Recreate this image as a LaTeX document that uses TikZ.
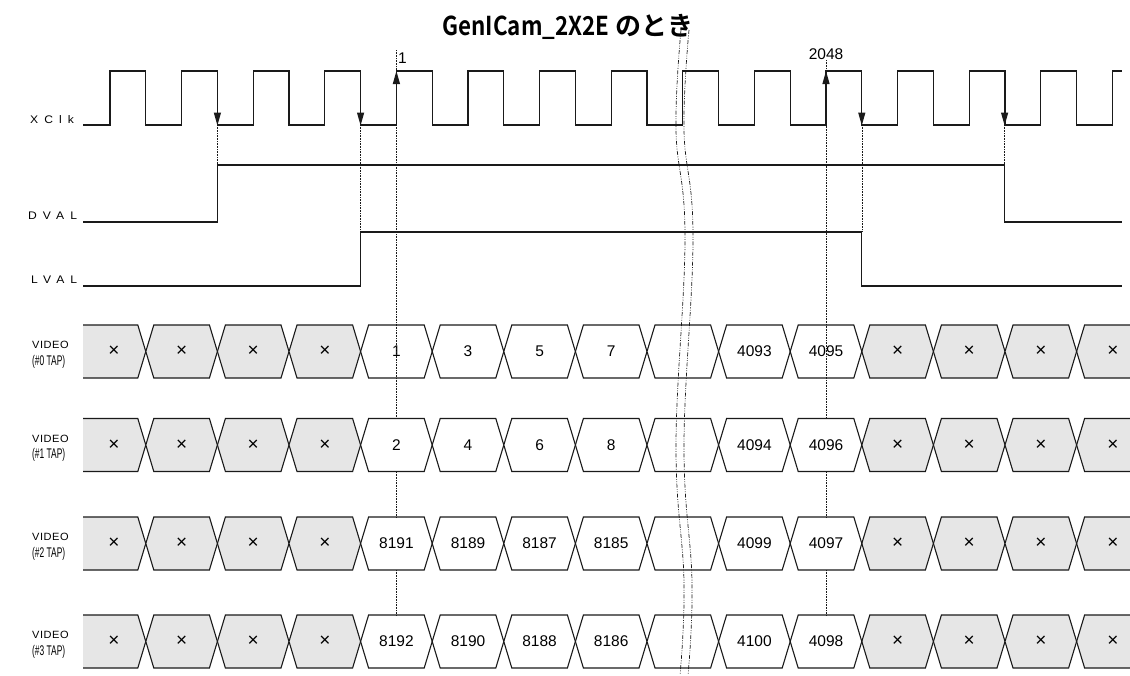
\documentclass[tikz,border=0pt]{standalone}
\usepackage{fontspec}
\setmainfont{Liberation Sans}
\newfontfamily\sigfont[FakeStretch=1.1,LetterSpace=55]{Liberation Sans}
\newfontfamily\vidfont[FakeStretch=1.05,LetterSpace=5]{Liberation Sans}
\newfontfamily\tapfont[FakeStretch=0.6]{Liberation Sans}
\newfontfamily\titlefont{Noto Sans CJK JP Bold}
\usepackage{xcolor}
\usetikzlibrary{arrows.meta}
\definecolor{cellgray}{HTML}{E6E6E6}
\definecolor{wire}{HTML}{1A1A1A}

\begin{document}
\begin{tikzpicture}[x=1pt,y=-1pt,>={Triangle[length=13pt,width=7pt]},
        signal/.style={draw=wire,line width=1.2pt},
        guide/.style={draw=wire,densely dotted,line width=0.6pt},
        cellline/.style={draw=wire,line width=1.1pt},
        xcell/.style={cellline,fill=cellgray},
        dcell/.style={cellline,fill=white},
        celltext/.style={font=\fontsize{15.5}{18}\selectfont},
        xtext/.style={font=\fontsize{19}{20}\selectfont},
        siglabel/.style={anchor=base west,inner sep=0pt,font=\sigfont\fontsize{11}{12}\selectfont},
        vidlabel/.style={anchor=base west,inner sep=0pt,font=\vidfont\fontsize{10.5}{12}\selectfont},
        taplabel/.style={anchor=base west,inner sep=0pt,font=\tapfont\fontsize{14}{15}\selectfont},
        breakline/.style={draw=wire,line width=0.7pt,
          dash pattern=on 4pt off 1.5pt on 0.8pt off 1.5pt on 0.8pt off 1.5pt}]
  \useasboundingbox (0,0) rectangle (1130,675);

  % title and edge numbers
  \node[anchor=base,inner sep=0pt,font=\titlefont\fontsize{26}{30}\selectfont] (title) at (568,35)
    {{\addfontfeature{FakeStretch=0.86}GenICam\_2X2E} のとき};
  \node[celltext,anchor=base west,inner sep=0pt] (first) at (398,63) {1};
  \node[celltext,anchor=base,inner sep=0pt] (last) at (826,59) {2048};

  % signal names
  \node[siglabel] (xclk) at (30,123) {XClk};
  \node[siglabel] (dval) at (28,219) {DVAL};
  \node[siglabel] (lval) at (31,283) {LVAL};

  % clock
  \draw[signal] (83,125) \foreach \k in {0,...,13} {
      -- ({110+71.6*\k},125) -- ({110+71.6*\k},71) -- ({145.8+71.6*\k},71) -- ({145.8+71.6*\k},125) }
    -- (1112.4,125) -- (1112.4,71) -- (1122,71);
  \foreach \fx in {217.4,360.6,861.8,1004.6}
    \draw[signal,->] (\fx,75) -- (\fx,125.5);
  \foreach \rx in {396.4,826}
    \draw[signal,->] (\rx,125) -- (\rx,71);

  % DVAL / LVAL
  \draw[signal] (83,222) -- (217.4,222) -- (217.4,165) -- (1004.6,165) -- (1004.6,222) -- (1122,222);
  \draw[signal] (83,286) -- (360.6,286) -- (360.6,232) -- (861.8,232) -- (861.8,286) -- (1122,286);
  \draw[guide] (217.4,125) -- (217.4,165) (1004.6,125) -- (1004.6,165)
               (360.6,125) -- (360.6,232) (861.8,125) -- (861.8,232);

  % video taps
  \foreach \r/\yc/\ta/\tb/\tc/\td/\te/\tf in {0/351.5/1/3/5/7/4093/4095,
      1/445/2/4/6/8/4094/4096, 2/543.5/8191/8189/8187/8185/4099/4097,
      3/641.5/8192/8190/8188/8186/4100/4098} {
    \node[vidlabel] (vid\r) at (32,\yc-3) {VIDEO};
    \node[taplabel] (tap\r) at (32,\yc+13.5) {(\#\r\ TAP)};
    \fill[cellgray] (83,\yc-26.5) -- (137.8,\yc-26.5) -- (145.8,\yc) -- (137.8,\yc+26.5) -- (83,\yc+26.5) -- cycle;
    \draw[cellline] (83,\yc-26.5) -- (137.8,\yc-26.5) -- (145.8,\yc) -- (137.8,\yc+26.5) -- (83,\yc+26.5);
    \fill[cellgray] (1130,\yc-26.5) -- (1084.6,\yc-26.5) -- (1076.6,\yc) -- (1084.6,\yc+26.5) -- (1130,\yc+26.5) -- cycle;
    \draw[cellline] (1130,\yc-26.5) -- (1084.6,\yc-26.5) -- (1076.6,\yc) -- (1084.6,\yc+26.5) -- (1130,\yc+26.5);
    \node[xtext] (x\r-0) at (114,\yc) {×};
    \node[xtext] (x\r-14) at (1113,\yc) {×};
    \foreach \j in {1,2,3,11,12,13} {
      \draw[xcell] ({145.8+71.6*(\j-1)},\yc) -- ++(8,-26.5) -- ++(55.6,0) -- ++(8,26.5)
        -- ++(-8,26.5) -- ++(-55.6,0) -- cycle;
      \node[xtext] (x\r-\j) at ({181.6+71.6*(\j-1)},\yc) {×};
    }
    \foreach \j in {4,...,10}
      \draw[dcell] ({145.8+71.6*(\j-1)},\yc) -- ++(8,-26.5) -- ++(55.6,0) -- ++(8,26.5)
        -- ++(-8,26.5) -- ++(-55.6,0) -- cycle;
    \foreach \j/\t in {4/\ta,5/\tb,6/\tc,7/\td,9/\te,10/\tf}
      \node[celltext] (d\r-\j) at ({181.6+71.6*(\j-1)},\yc) {\t};
  }

  % first / last pixel guides
  \draw[guide] (396.4,50) -- (396.4,418) (396.4,472) -- (396.4,517) (396.4,570) -- (396.4,615);
  \draw[guide] (826,60) -- (826,418) (826,472) -- (826,517) (826,570) -- (826,615);

  % break mark
  \draw[breakline] plot[smooth,tension=0.7] coordinates {(681,30) (676,130) (685,238) (676,445) (684,582) (680,675)};
  \draw[breakline] plot[smooth,tension=0.7] coordinates {(689,30) (684,130) (693,238) (684,445) (692,582) (688,675)};
\end{tikzpicture}
\end{document}
